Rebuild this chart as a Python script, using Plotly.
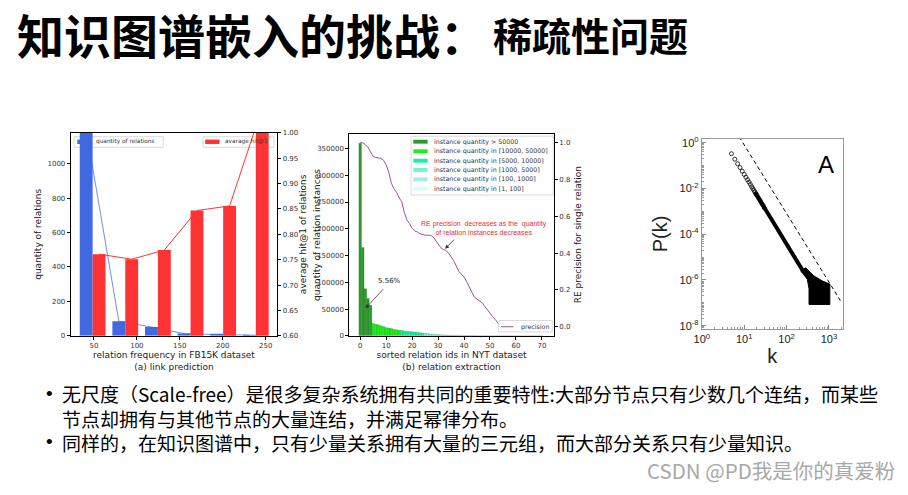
import plotly.graph_objects as go

# ---------------- (a) link prediction (FB15K) ----------------
a_blue_x = [41, 79, 117, 155, 193, 231]
a_quantity = [1200, 85, 51, 13, 7, 4]
a_red_x = [56, 94, 132, 170, 208, 246]
a_hit1 = [0.761, 0.751, 0.769, 0.847, 0.856, 1.05]
a_xticks = [50, 100, 150, 200, 250]
a_yticks = [0, 200, 400, 600, 800, 1000]
a_y2ticks = [0.60, 0.65, 0.70, 0.75, 0.80, 0.85, 0.90, 0.95, 1.00]

# ---------------- (b) relation extraction (NYT) ----------------
b_ids = list(range(71))
b_counts = [360000, 165000, 88000, 70000, 57000,
            23000, 21500, 20500, 19000, 17500, 15500, 14500, 13500, 12500, 11500, 10500,
            9800, 9200, 8700, 8100, 7600, 7100, 6600, 6000, 5400,
            4800, 4200, 3600, 3100, 2700, 2300, 2000, 1800, 1600, 1400, 1250, 1100, 1020,
            950, 850, 760, 680, 600, 520, 450, 390, 330, 280, 230, 180, 130,
            95, 80, 68, 57, 48, 40, 34, 28, 23, 19, 16, 13, 11, 9, 7, 5, 4, 3, 2, 1]
b_prec_ids = list(range(56))
b_precision = [1.0, 1.0, 0.99, 0.975, 0.95, 0.925, 0.92, 0.918, 0.915, 0.905,
               0.88, 0.84, 0.78, 0.75, 0.73, 0.70, 0.68, 0.62, 0.58, 0.56,
               0.535, 0.52, 0.515, 0.505, 0.50, 0.497, 0.497, 0.497, 0.49, 0.47,
               0.45, 0.43, 0.42, 0.415, 0.40, 0.38, 0.36, 0.33, 0.30, 0.285,
               0.27, 0.245, 0.215, 0.19, 0.16, 0.15, 0.14, 0.13, 0.11, 0.09,
               0.07, 0.055, 0.04, 0.02, 0.01, 0.0]
b_bin_labels = ["instance quantity > 50000",
                "instance quantity in [10000, 50000]",
                "instance quantity in [5000, 10000]",
                "instance quantity in [1000, 5000]",
                "instance quantity in [100, 1000]",
                "instance quantity in [1, 100]"]
b_bin_lower = [50000, 10000, 5000, 1000, 100, 1]
b_bin_upper = [10**9, 50000, 10000, 5000, 1000, 100]
b_bin_colors = ["#2E9A2E", "#1CF01C", "#14F2A2", "#74F5D2", "#AAE9E9", "#DAFBFB"]
b_xticks = [0, 10, 20, 30, 40, 50, 60, 70]
b_yticks = [0, 50000, 100000, 150000, 200000, 250000, 300000, 350000]
b_y2ticks = [0.0, 0.2, 0.4, 0.6, 0.8, 1.0]

# ---------------- (c) scale-free degree distribution ----------------
c_k_sparse = [5, 6, 7, 8, 9, 10, 11, 12, 13, 14, 15, 16, 17, 18, 19, 20, 22, 24, 26, 28, 30]
c_p_sparse = [0.33, 0.19, 0.12, 0.082, 0.057, 0.041, 0.031, 0.024, 0.019, 0.015, 0.012,
              0.0099, 0.0082, 0.0069, 0.0058, 0.005, 0.0037, 0.0029, 0.0022, 0.0018, 0.0014]
c_k_band = [18, 30, 50, 70, 100, 150, 200, 250]
c_p_band = [6.8e-3, 1.45e-3, 3.0e-4, 1.1e-4, 3.6e-5, 1.05e-5, 4.4e-6, 2.3e-6]
c_k_tail = [217, 309, 339, 339, 1050, 1050, 695, 445, 284, 217]
c_p_tail = [2.5e-6, 1.07e-6, 4.1e-7, 8.5e-8, 8.5e-8, 6.6e-7, 9.1e-7, 1.5e-6, 3.4e-6, 2.5e-6]
c_k_fit = [7.6, 1862]
c_p_fit = [1.82, 1.26e-7]
c_xticks = [1, 10, 100, 1000]
c_xticktext = ["10<sup>0</sup>", "10<sup>1</sup>", "10<sup>2</sup>", "10<sup>3</sup>"]
c_yticks = [1, 1e-2, 1e-4, 1e-6, 1e-8]
c_yticktext = ["10<sup>0</sup>", "10<sup>-2</sup>", "10<sup>-4</sup>", "10<sup>-6</sup>", "10<sup>-8</sup>"]

MPL = "DejaVu Sans"
CJK = "Noto Sans CJK SC"

fig = go.Figure()

# ---- (a) traces ----
fig.add_trace(go.Bar(x=a_blue_x, y=a_quantity, width=15, marker=dict(color="#4169E1", line=dict(width=0)),
                     name="quantity of relations", xaxis="x", yaxis="y", showlegend=False))
fig.add_trace(go.Scatter(x=a_blue_x, y=a_quantity, mode="lines", line=dict(color="rgba(65,105,225,0.75)", width=1),
                         xaxis="x", yaxis="y", showlegend=False))
fig.add_trace(go.Bar(x=a_red_x, y=a_hit1, width=15, marker=dict(color="#FF3333", line=dict(width=0)),
                     name="avarage hit@1", xaxis="x", yaxis="y2", showlegend=False))
fig.add_trace(go.Scatter(x=a_red_x, y=a_hit1, mode="lines", line=dict(color="#FF3333", width=1),
                         xaxis="x", yaxis="y2", showlegend=False))

# ---- (b) traces ----
for lab, lo, hi, col in zip(b_bin_labels, b_bin_lower, b_bin_upper, b_bin_colors):
    xs = [i for i, c in zip(b_ids, b_counts) if lo <= c < hi]
    ys = [c for c in b_counts if lo <= c < hi]
    fig.add_trace(go.Bar(x=xs, y=ys, width=1, name=lab, xaxis="x2", yaxis="y3", showlegend=False,
                         marker=dict(color=col, line=dict(color="rgba(0,70,0,0.35)", width=0.5))))
fig.add_trace(go.Scatter(x=b_prec_ids, y=b_precision, mode="lines", name="precision",
                         line=dict(color="#9E509E", width=1), xaxis="x2", yaxis="y4", showlegend=False))

# ---- (c) traces ----
fig.add_trace(go.Scatter(x=c_k_tail, y=c_p_tail, mode="lines", fill="toself", fillcolor="black",
                         line=dict(color="black", width=1), xaxis="x3", yaxis="y5", showlegend=False))
fig.add_trace(go.Scatter(x=c_k_band, y=c_p_band, mode="lines", line=dict(color="black", width=4),
                         xaxis="x3", yaxis="y5", showlegend=False))
fig.add_trace(go.Scatter(x=c_k_sparse, y=c_p_sparse, mode="markers",
                         marker=dict(symbol="circle-open", size=4, color="black", line=dict(width=0.8)),
                         xaxis="x3", yaxis="y5", showlegend=False))
fig.add_trace(go.Scatter(x=c_k_fit, y=c_p_fit, mode="lines", line=dict(color="black", width=1, dash="4px,3px"),
                         xaxis="x3", yaxis="y5", showlegend=False))

tickfont = dict(family=MPL, size=7, color="#333")
titlefont = dict(family=MPL, size=9, color="#222")
mplax = dict(showline=True, linecolor="black", linewidth=1, ticks="outside", ticklen=3, tickwidth=0.8,
             tickcolor="black", tickfont=tickfont, showgrid=False, zeroline=False)

A_Y = [0.3186, 0.7354]
B_Y = [0.3186, 0.7340]

fig.update_layout(
    width=908, height=495, margin=dict(l=0, r=0, t=0, b=0),
    paper_bgcolor="white", plot_bgcolor="white", barmode="overlay", showlegend=False,
    xaxis=dict(domain=[0.0697, 0.2992], anchor="y", range=[23, 263.5], tickvals=a_xticks, mirror=True,
               title=dict(text="relation frequency in FB15K dataset<br>(a) link prediction", font=titlefont, standoff=0),
               **mplax),
    yaxis=dict(domain=A_Y, anchor="x", range=[0, 1179], tickvals=a_yticks, mirror=True,
               title=dict(text="quantity of relations", font=titlefont, standoff=4), **mplax),
    yaxis2=dict(overlaying="y", side="right", anchor="x", range=[0.6, 1.0], tickvals=a_y2ticks, tickformat=".2f",
                title=dict(text="average hit@1 of relations", font=titlefont, standoff=2), **mplax),
    xaxis2=dict(domain=[0.3792, 0.6065], anchor="y3", range=[-4.2, 74.6], tickvals=b_xticks, mirror=True,
                title=dict(text="sorted relation ids in NYT dataset<br>(b) relation extraction", font=titlefont, standoff=0),
                **mplax),
    yaxis3=dict(domain=B_Y, anchor="x2", range=[0, 378000], tickvals=b_yticks, tickformat="d", mirror=True,
                **mplax),
    yaxis4=dict(overlaying="y3", side="right", anchor="x2", range=[-0.05, 1.05], tickvals=b_y2ticks, tickformat=".1f",
                title=dict(text="RE precision for single relation", font=titlefont, standoff=4), **mplax),
    xaxis3=dict(domain=[0.7709, 0.9277], anchor="y5", type="log", range=[0, 3.33], tickvals=c_xticks,
                ticktext=c_xticktext, ticks="inside", ticklen=4, tickcolor="#888", showline=True, linecolor="#999",
                linewidth=1, mirror=True, showgrid=False, zeroline=False,
                tickfont=dict(family="Liberation Sans", size=11, color="#222"),
                minor=dict(ticks="inside", ticklen=2, tickcolor="#999", dtick="D1", showgrid=False),
                title=dict(text="k", font=dict(family="Liberation Sans", size=20, color="#222"), standoff=0)),
    yaxis5=dict(domain=[0.3323, 0.7232], anchor="x3", type="log", range=[-8.15, 0.17], tickvals=c_yticks,
                ticktext=c_yticktext, ticks="inside", ticklen=4, tickcolor="#888", showline=True, linecolor="#999",
                linewidth=1, mirror=True, showgrid=False, zeroline=False,
                tickfont=dict(family="Liberation Sans", size=11, color="#222"),
                minor=dict(ticks="inside", ticklen=2, tickcolor="#999", dtick="D1", showgrid=False),
                title=dict(text="P(k)", font=dict(family="Liberation Sans", size=20, color="#222"), standoff=6)),
)

shapes = []
ann = []

def legend_box(xr, yr, x0, x1, y0, y1, layer="below"):
    shapes.append(dict(type="rect", xref=xr, yref=yr, x0=x0, x1=x1, y0=y0, y1=y1,
                       line=dict(color="#D0D0D0", width=0.8), fillcolor="white", layer=layer))

def legend_patch(xr, yr, x0, x1, yc, h, color, layer="below"):
    shapes.append(dict(type="rect", xref=xr, yref=yr, x0=x0, x1=x1, y0=yc - h, y1=yc + h,
                       line=dict(width=0), fillcolor=color, layer=layer))

def legend_text(xr, yr, x, y, text, size=6):
    ann.append(dict(xref=xr, yref=yr, x=x, y=y, text=text, showarrow=False, xanchor="left", yanchor="middle",
                    font=dict(family=MPL, size=size, color="#333")))

# (a) legends
legend_box("x domain", "y domain", 0.016, 0.448, 0.929, 0.981)
legend_patch("x domain", "y domain", 0.032, 0.096, 0.956, 0.011, "#4169E1")
legend_text("x domain", "y domain", 0.115, 0.956, "quantity of relations", size=5.8)
legend_box("x domain", "y domain", 0.64, 0.984, 0.929, 0.981)
legend_patch("x domain", "y domain", 0.651, 0.72, 0.956, 0.011, "#FF3333")
legend_text("x domain", "y domain", 0.735, 0.956, "avarage hit@1", size=5.8)

# (b) legends
legend_box("x2 domain", "y3 domain", 0.302, 0.997, 0.696, 0.987, layer="above")
b_leg_y = [0.9597, 0.9125, 0.8658, 0.820, 0.7733, 0.7276]
for lab, col, yy in zip(b_bin_labels, b_bin_colors, b_leg_y):
    legend_patch("x2 domain", "y3 domain", 0.313, 0.383, yy, 0.0097, col, layer="above")
    legend_text("x2 domain", "y3 domain", 0.405, yy, lab, size=6.3)
legend_box("x2 domain", "y3 domain", 0.730, 0.992, 0.0195, 0.0759, layer="above")
shapes.append(dict(type="line", xref="x2 domain", yref="y3 domain", x0=0.742, x1=0.803, y0=0.045, y1=0.045,
                   line=dict(color="#9E509E", width=1), layer="above"))
legend_text("x2 domain", "y3 domain", 0.83, 0.045, "precision", size=6.3)

# (b) left axis title (drawn as text so it does not collide with panel (a))
ann.append(dict(xref="paper", yref="paper", x=311 / 908, y=1 - 234.5 / 495, text="quantity of relation instances",
                textangle=-90, showarrow=False, xanchor="center", yanchor="middle", font=titlefont))

# (b) annotations
ann.append(dict(xref="x2", yref="y4", x=47.7, y=0.539,
                text="RE precision  decreases as the  quantity<br>of relation instances decreases",
                showarrow=False, font=dict(family="Liberation Sans", size=7, color="#E8302C")))
ann.append(dict(xref="x2", yref="y4", x=32.7, y=0.423, axref="x2", ayref="y4", ax=36.8, ay=0.482, text="",
                showarrow=True, arrowhead=2, arrowsize=1, arrowwidth=0.8, arrowcolor="#333"))
ann.append(dict(xref="x2", yref="y3", x=11.3, y=102000, text="5.56%", showarrow=False,
                font=dict(family=MPL, size=7, color="#222")))
ann.append(dict(xref="x2", yref="y3", x=2.06, y=51500, axref="x2", ayref="y3", ax=9.4, ay=90000, text="",
                showarrow=True, arrowhead=2, arrowsize=1, arrowwidth=0.8, arrowcolor="#333"))

# (c) panel letter
ann.append(dict(xref="paper", yref="paper", x=825 / 908, y=1 - 163 / 495, text="A", showarrow=False,
                xanchor="center", yanchor="middle",
                font=dict(family="Liberation Sans", size=24, color="black")))

# slide title and text
ann.append(dict(xref="paper", yref="paper", x=7 / 908, y=1 - 30 / 495, xanchor="left", yanchor="middle",
                text="<b>知识图谱嵌入的挑战：</b>", showarrow=False, font=dict(family=CJK, size=47, color="black")))
ann.append(dict(xref="paper", yref="paper", x=487 / 908, y=1 - 31 / 495, xanchor="left", yanchor="middle",
                text="<b>稀疏性问题</b>", showarrow=False, font=dict(family=CJK, size=39, color="black")))

body_lines = [
    "无尺度（Scale-free）是很多复杂系统拥有共同的重要特性:大部分节点只有少数几个连结，而某些",
    "节点却拥有与其他节点的大量连结，并满足幂律分布。",
    "同样的，在知识图谱中，只有少量关系拥有大量的三元组，而大部分关系只有少量知识。",
]
ann.append(dict(xref="paper", yref="paper", x=52 / 908, y=1 - 420.5 / 495, xanchor="left", yanchor="middle",
                align="left", text="<br>".join(body_lines), showarrow=False,
                font=dict(family=CJK, size=19, color="black")))
for by in [396, 445]:
    ann.append(dict(xref="paper", yref="paper", x=42 / 908, y=1 - by / 495, xanchor="center", yanchor="middle",
                    text="•", showarrow=False, font=dict(family="Liberation Sans", size=19, color="black")))

ann.append(dict(xref="paper", yref="paper", x=897 / 908, y=1 - 474 / 495, xanchor="right", yanchor="middle",
                text="CSDN @PD我是你的真爱粉", showarrow=False, font=dict(family=CJK, size=20.5, color="#A8A8A8")))

fig.update_layout(shapes=shapes, annotations=ann)
fig.write_html("out.html", config={"displayModeBar": False},
               post_script="document.body.style.margin='0px';")
